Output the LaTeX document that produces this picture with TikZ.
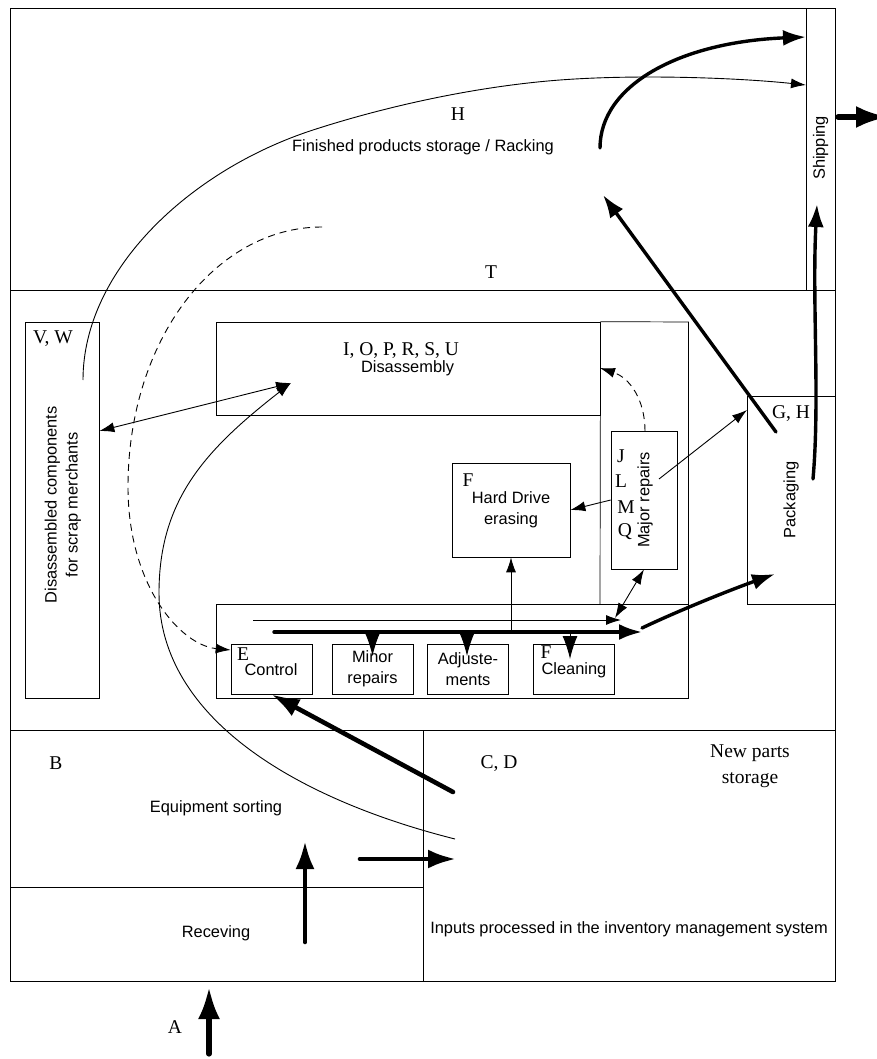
\documentclass[tikz,border=0pt]{standalone}
\usepackage{fontspec}
\setmainfont{Liberation Serif}
\setsansfont{Liberation Sans}
\usetikzlibrary{arrows.meta}
\tikzset{
    box/.style={draw,line width=0.7pt,inner sep=0pt,align=center,font=\sffamily\fontsize{16.4}{21}\selectfont},
    sans/.style={inner sep=0pt,align=center,font=\sffamily\fontsize{16.4}{21}\selectfont},
    letter/.style={inner sep=0pt,font=\fontsize{19.5}{26}\selectfont},
    thinflow/.style={line width=0.9pt,-{Latex[length=15pt,width=10pt]}},
    dashflow/.style={thinflow,dash pattern=on 7pt off 5pt},
    bothflow/.style={line width=0.9pt,{Latex[length=15pt,width=10pt]}-{Latex[length=15pt,width=10pt]}},
    thickflow/.style={line width=3.4pt,line cap=round,-{Latex[length=23pt,width=16pt]}},
    bigflow/.style={line width=4.6pt,line cap=round,-{Latex[length=28pt,width=19pt]}},
    gateflow/.style={line width=5.2pt,line cap=round,-{Latex[length=32pt,width=22pt]}},
    stubflow/.style={line width=1pt,-{Latex[length=23pt,width=15pt]}}
}
\begin{document}
\begin{tikzpicture}[x=1pt,y=-1pt]
    \useasboundingbox(0,0)rectangle(876,1059);
    % building outline
    \coordinate(NW)at(10,8);
    \coordinate(NE)at(835,8);
    \coordinate(SE)at(835,981);
    \coordinate(SW)at(10,981);
    \draw[line width=0.7pt](NW)--(NE)--(SE)--(SW)--cycle;
    \draw[line width=0.7pt](10,290)--(835,290);
    \draw[line width=0.7pt](10,730)--(835,730);
    \draw[line width=0.7pt](423,730)--(423,981);
    \draw[line width=0.7pt](10,887)--(423,887);
    % boxes
    \node[box,minimum width=29pt,minimum height=282pt](shipping)at(820.5,149){};
    \node[box,minimum width=88pt,minimum height=208pt,fill=white](packaging)at(791,500){};
    \node[box,minimum width=74pt,minimum height=376pt](scrap)at(62,510){};
    \node[box,minimum width=384pt,minimum height=93pt](disassembly)at(408,368.5){};
    \draw[line width=0.7pt](disassembly.north east)--(688.5,322)--(688.5,698);
    \draw[line width=0.7pt](disassembly.south east)--(600,604);
    \node[box,minimum width=472pt,minimum height=94pt](line)at(452,651){};
    \node[box,minimum width=118pt,minimum height=94pt](erasing)at(511,510){};
    \node[box,minimum width=66pt,minimum height=138pt](major)at(644,500){};
    \node[box,minimum width=81pt,minimum height=50pt](control)at(271.5,669){};
    \node[box,minimum width=81pt,minimum height=50pt](minor)at(372.5,669){};
    \node[box,minimum width=81pt,minimum height=50pt](adjust)at(467.5,669){};
    \node[box,minimum width=81pt,minimum height=50pt](cleaning)at(573.5,669){};
    % free ends
    \coordinate(gate)at(209,1054);
    \coordinate(gatetip)at(209,987);
    \coordinate(recv)at(305,942);
    \coordinate(recvtip)at(305,841);
    \coordinate(inA)at(360,859);
    \coordinate(inB)at(456,859);
    \coordinate(sort)at(453,792);
    \coordinate(inv)at(455,839);
    \coordinate(dis)at(291,383);
    \coordinate(store)at(322,227);
    \coordinate(rack)at(600,148);
    \coordinate(scrapout)at(83,380);
    \coordinate(shipA)at(806,37);
    \coordinate(shipB)at(806,85);
    \coordinate(outA)at(838,117);
    \coordinate(outB)at(888,117);
    \coordinate(packA)at(813,479);
    \coordinate(packB)at(817,204);
    \coordinate(packC)at(776,432);
    \coordinate(rackin)at(603,195);
    \coordinate(majorA)at(645,431);
    \coordinate(majorB)at(600,368);
    \coordinate(majorC)at(659,479);
    \coordinate(packin)at(747,410);
    \coordinate(mainA)at(274,632);
    \coordinate(mainB)at(642,632);
    \coordinate(mainC)at(642,628);
    \coordinate(mainD)at(775,574);
    \coordinate(topA)at(253,620);
    \coordinate(topB)at(621,620);
    \coordinate(forkA)at(615,618);
    \coordinate(forkB)at(511,632);
    \coordinate(minorA)at(372.5,632);
    \coordinate(minorB)at(372.5,656);
    \coordinate(adjustA)at(467,632);
    \coordinate(adjustB)at(467,656);
    \coordinate(cleanA)at(570,632);
    \coordinate(cleanB)at(570,659);
    % heavy flows
    \draw[gateflow](gate)--(gatetip);
    \draw[bigflow](recv)--(recvtip);
    \draw[bigflow](inA)--(inB);
    \draw[bigflow](sort)--(control.south);
    \draw[thickflow](rack)..controls(600,85)and(680,42)..(shipA);
    \draw[gateflow](outA)--(outB);
    \draw[thickflow](packA)..controls(820,400)and(812,300)..(packB);
    \draw[thickflow](packC)--(rackin);
    \draw[thickflow](mainA)--(mainB);
    \draw[thickflow](mainC)..controls(680,610)and(730,590)..(mainD);
    % thin flows
    \draw[thinflow](inv)..controls(300,800)and(159,720)..(159,593)..controls(159,500)and(205,450)..(dis);
    \draw[bothflow](scrap.east|-0,431)--(dis);
    \draw[dashflow](store)..controls(215,227)and(128,340)..(128,487)..controls(128,585)and(180,645)..(control.west|-0,650);
    \draw[thinflow](scrapout)..controls(83,270)and(190,170)..(313,130)..controls(390,105)and(480,86)..(560,80)..controls(640,74)and(740,78)..(shipB);
    \draw[dashflow](majorA)..controls(645,400)and(630,378)..(majorB);
    \draw[thinflow](majorC)--(packin);
    \draw[thinflow](major.west|-0,500)--(erasing.east);
    \draw[thinflow](forkB)--(erasing.south);
    \draw[thinflow](topA)--(topB);
    \draw[bothflow](forkA)--(major.south);
    \draw[stubflow](minorA)--(minorB);
    \draw[stubflow](adjustA)--(adjustB);
    \draw[stubflow](cleanA)--(cleanB);
    % labels
    \node[letter](lblH)at(458,114){H};
    \node[sans](lblstore)at(423,147){Finished products storage / Racking};
    \node[letter](lblT)at(491,272){T};
    \node[letter](lblVW)at(53,339){V, W};
    \node[sans,rotate=90](lblscrap)at(63,505){Disassembled components\\for scrap merchants};
    \node[letter](lblIO)at(401,351){I, O, P, R, S, U};
    \node[sans](lbldis)at(407.5,368){Disassembly};
    \node[letter](lblFa)at(468,480){F};
    \node[sans](lblerase)at(511,509.5){Hard Drive\\erasing};
    \node[letter](lblJ)at(621,456){J};
    \node[letter](lblL)at(621,481){L};
    \node[letter](lblM)at(626,507){M};
    \node[letter](lblQ)at(625,532){Q};
    \node[sans,rotate=90](lblmajor)at(645,500){Major repairs};
    \node[letter](lblGH)at(791,414){G, H};
    \node[sans,rotate=90](lblpack)at(791,500){Packaging};
    \node[sans,rotate=90](lblship)at(820.5,148){Shipping};
    \node[letter](lblE)at(243,654){E};
    \node[sans](lblcontrol)at(271,670){Control};
    \node[sans](lblminor)at(372.5,669){Minor\\repairs};
    \node[sans](lbladjust)at(468,669){Adjuste-\\ments};
    \node[letter](lblFb)at(546,652){F};
    \node[sans](lblclean)at(574,670){Cleaning};
    \node[letter](lblB)at(56,763){B};
    \node[letter](lblCD)at(499,764){C, D};
    \node[letter,align=center](lblnew)at(750,766){New parts\\storage};
    \node[sans](lblsort)at(216,808){Equipment sorting};
    \node[sans](lblrecv)at(216,933){Receving};
    \node[sans](lblinputs)at(629,929){Inputs processed in the inventory management system};
    \node[letter](lblA)at(175,1027){A};
\end{tikzpicture}
\end{document}
